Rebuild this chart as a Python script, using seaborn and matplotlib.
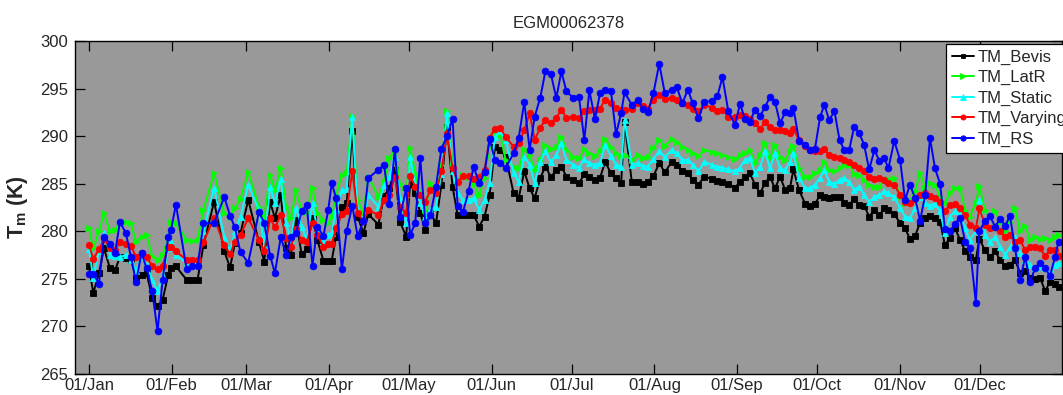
import matplotlib
matplotlib.use("Agg")
import matplotlib.pyplot as plt
import matplotlib.dates as mdates
import numpy as np
import pandas as pd
import seaborn as sns

# ---------------- data ----------------
# day of year (0 = 01/Jan) of each sounding
days = [0, 1.6, 3.75, 5.6, 7.9, 9.75, 11.6, 13.8, 15.75, 17.6, 19.7, 21.6, 23.7, 25.7, 27.6, 29.7, 30.7, 32.6,
        36.6, 38.7, 40.7, 42.9, 46.9, 50.7, 52.9, 54.7, 56.8, 59.7, 63.7, 65.7, 67.9, 69.7, 71.9, 73.9, 75.7, 77.6,
        79.7, 81.6, 83.8, 85.6, 87.9, 89.7, 91.0, 92.6, 94.8, 96.6, 98.7, 100.7, 102.9, 104.7, 108.5, 110.6, 112.6, 114.7, 116.6,
        118.9, 120.4, 122.3, 124.2, 126.1, 128.0, 130.1, 132.1, 134.2, 136.3, 138.2, 140.2, 142.3, 144.2, 146.3, 148.3,
        150.2, 152.2, 154.2, 156.2, 159.2, 161.1, 163.2, 165.2, 167.1, 169.2, 171.1, 173.2, 175.2, 177.1, 179.0,
        181.6, 183.7, 185.7, 187.6, 189.7, 191.6, 193.5, 195.7, 197.6, 199.5, 200.8, 203.5, 205.7, 207.6, 209.5, 211.6,
        213.8, 215.9, 218.5, 220.3, 222.5, 224.5, 226.3, 228.5, 230.7, 233.5, 235.6, 237.5, 239.7,
        242.2, 244.1, 245.9, 247.8, 249.7, 251.6, 253.5, 255.3, 257.2, 259.1, 261.0, 262.8, 264.1, 266.2, 268.5, 270.3,
        272.2, 274.1, 275.7, 277.5, 279.5, 281.4, 283.1, 285.0, 286.9, 288.8, 290.6, 292.5, 294.5, 296.3, 298.2, 299.7,
        301.9, 304.1, 305.95, 307.8, 309.7, 311.6, 313.5, 315.3, 317.2, 319.1, 320.9, 322.8, 324.7, 326.6, 328.5, 330.3,
        332.5, 333.8, 335.95, 337.8, 339.7, 341.6, 343.5, 345.3, 347.2, 349.1, 351.0, 352.8, 354.7, 356.6, 358.5, 360.3,
        362.2, 363.5]

tm_bevis = [276.3, 273.5, 275.6, 278.2, 276.1, 275.9, 277.3, 277.2, 277.0, 275.2, 275.4, 275.6, 273.0, 272.1, 272.8, 275.4, 276.1, 276.3,
            274.9, 274.9, 274.9, 278.55, 283.1, 277.9, 276.2, 278.75, 279.8, 283.3, 278.9, 276.8, 283.1, 281.4, 283.8, 278.2, 277.5, 281.2,
            277.6, 278.1, 281.4, 279.1, 276.9, 276.9, 276.9, 279.45, 282.6, 282.95, 290.5, 281.55, 279.8, 281.8, 280.7, 283.7, 284.5, 286.45, 281.0,
            279.45, 285.0, 284.0, 281.9, 280.15, 281.9, 280.85, 284.9, 291.0, 284.7, 281.7, 281.7, 281.7, 281.7, 280.5, 281.55,
            283.8, 288.9, 288.55, 287.85, 284.0, 283.5, 286.3, 284.5, 283.5, 285.6, 286.8, 285.7, 286.45, 286.8, 285.75,
            285.4, 285.05, 286.0, 285.75, 285.4, 285.6, 287.3, 286.1, 285.6, 285.05, 291.5, 285.2, 285.2, 285.0, 285.2, 285.8,
            287.15, 286.2, 287.3, 287.0, 286.3, 286.1, 285.4, 284.9, 285.75, 285.5, 285.3, 285.2, 285.0,
            284.6, 285.2, 285.7, 286.1, 284.9, 284.0, 285.1, 285.75, 284.5, 285.75, 284.35, 284.5, 286.5, 284.35, 282.9, 282.7,
            282.9, 283.8, 283.6, 283.5, 283.6, 283.6, 282.95, 282.8, 283.4, 282.8, 282.7, 281.55, 282.25, 281.7, 282.4, 282.25,
            281.8, 280.85, 280.3, 279.2, 279.5, 280.9, 281.4, 281.6, 281.4, 281.0, 278.55, 279.3, 280.3, 279.1, 277.9, 277.3,
            277.0, 279.2, 278.0, 277.3, 277.9, 277.0, 276.3, 276.5, 277.0, 275.6, 275.8, 275.1, 275.0, 275.1, 273.7, 274.7,
            274.5, 274.1]

tm_latr = [280.3, 278.2, 280.0, 281.9, 280.0, 280.1, 281.0, 281.0, 280.85, 278.9, 279.45, 279.6, 277.4, 277.0, 277.5, 279.3, 281.0, 280.85,
           279.1, 279.0, 279.1, 282.25, 286.1, 281.9, 281.55, 282.4, 283.4, 286.2, 282.6, 281.5, 285.9, 284.35, 286.6, 282.6, 281.4, 284.3,
           282.25, 282.0, 284.6, 281.9, 281.2, 280.85, 281.5, 283.8, 285.9, 286.1, 292.1, 283.3, 281.9, 285.75, 283.65, 285.2, 287.7, 288.55, 285.0,
           283.65, 288.8, 286.1, 284.0, 282.25, 285.05, 284.0, 287.0, 292.6, 287.15, 285.4, 285.9, 285.75, 285.0, 283.8, 285.6,
           288.9, 290.5, 290.1, 287.5, 286.8, 286.6, 288.6, 288.0, 286.45, 287.5, 289.1, 288.6, 288.9, 289.95, 288.55,
           287.85, 287.7, 288.6, 288.2, 287.9, 288.4, 289.7, 288.9, 288.2, 287.9, 288.0, 287.5, 288.0, 287.7, 287.85, 288.8,
           289.6, 289.0, 289.7, 289.4, 288.9, 288.55, 288.2, 287.9, 288.55, 288.3, 288.2, 288.0, 287.8,
           287.55, 288.0, 288.25, 288.55, 287.15, 288.0, 289.25, 287.7, 289.1, 287.85, 287.5, 288.4, 289.0, 286.6, 285.75, 285.75,
           286.1, 286.45, 287.3, 286.45, 286.3, 286.6, 287.0, 287.0, 286.0, 285.9, 285.4, 284.9, 284.7, 284.7, 285.4, 285.5,
           285.6, 283.65, 283.0, 283.2, 284.2, 286.1, 284.6, 285.05, 284.9, 283.65, 282.95, 284.0, 284.6, 284.5, 282.25, 281.55,
           283.0, 284.8, 282.2, 281.55, 282.1, 281.0, 280.0, 281.0, 282.4, 280.0, 280.6, 279.1, 279.45, 279.2, 279.3, 279.1,
           279.4, 279.6]

tm_static = [278.1, 275.1, 277.9, 279.8, 277.5, 277.4, 277.3, 277.5, 277.0, 275.8, 277.3, 276.5, 274.9, 273.7, 275.3, 278.2, 278.9, 277.5,
             276.65, 276.65, 276.65, 280.0, 284.6, 279.45, 277.9, 280.0, 281.5, 284.9, 282.25, 278.5, 284.7, 282.95, 285.5, 280.85, 279.1, 282.5,
             280.5, 279.1, 282.95, 280.15, 278.9, 279.6, 279.8, 282.25, 284.3, 284.4, 292.05, 282.25, 281.2, 283.8, 282.6, 284.9, 285.75, 287.85, 283.5,
             280.85, 287.85, 284.9, 283.0, 281.55, 282.25, 282.6, 286.0, 292.4, 286.3, 284.0, 283.3, 283.3, 283.5, 282.25, 283.3,
             285.05, 289.95, 290.5, 289.6, 286.1, 285.2, 287.85, 287.0, 285.05, 287.3, 288.4, 287.3, 288.0, 289.25, 287.5,
             287.0, 286.7, 287.55, 287.15, 287.0, 287.15, 289.1, 287.9, 287.0, 286.8, 291.7, 287.0, 287.15, 286.9, 286.8, 287.6,
             288.4, 287.8, 288.55, 288.2, 287.5, 287.5, 287.0, 286.3, 287.3, 287.0, 286.8, 286.7, 286.5,
             286.3, 286.7, 287.5, 287.7, 286.1, 286.8, 288.4, 286.6, 288.2, 286.6, 286.45, 287.3, 288.2, 285.6, 284.5, 284.5,
             284.9, 285.6, 286.45, 285.2, 284.95, 285.4, 285.6, 285.2, 284.35, 284.7, 283.8, 283.1, 283.65, 283.8, 284.2, 284.0,
             283.6, 282.4, 281.55, 281.4, 282.4, 283.65, 283.0, 282.7, 282.9, 282.1, 279.8, 281.55, 282.1, 281.7, 280.3, 279.1,
             280.0, 283.3, 279.6, 278.9, 279.4, 278.4, 277.5, 278.3, 279.45, 277.7, 277.0, 276.5, 276.1, 276.3, 276.1, 275.3,
             276.5, 276.65]

tm_varying = [278.6, 277.1, 278.1, 279.2, 278.2, 278.0, 278.9, 278.7, 278.5, 277.3, 277.7, 277.3, 276.4, 276.0, 276.4, 278.3, 278.4, 277.9,
              277.0, 277.0, 277.0, 278.9, 281.4, 278.55, 277.6, 278.9, 279.6, 281.4, 279.1, 277.9, 281.4, 280.4, 281.7, 279.3, 278.4, 280.2,
              279.1, 278.9, 280.85, 279.6, 278.4, 278.65, 278.65, 280.3, 281.8, 282.1, 286.3, 281.9, 281.1, 282.25, 281.7, 283.3, 283.8, 285.75, 282.6,
              281.9, 285.8, 284.7, 283.8, 283.1, 284.35, 284.0, 286.3, 290.3, 286.7, 285.2, 285.8, 285.8, 285.5, 285.75, 286.4,
              289.8, 290.8, 290.9, 289.9, 288.9, 289.25, 290.65, 292.4, 289.6, 290.9, 291.7, 291.4, 291.95, 292.75, 291.95,
              292.0, 291.95, 292.6, 292.7, 292.7, 292.9, 293.8, 293.45, 293.0, 292.75, 292.75, 292.9, 293.45, 293.2, 292.9, 293.8,
              294.3, 293.9, 294.0, 293.8, 293.5, 293.3, 292.9, 292.6, 293.3, 293.0, 292.6, 292.75, 292.05,
              292.0, 292.2, 292.1, 291.8, 291.35, 290.7, 291.5, 291.0, 290.65, 290.6, 290.5, 290.3, 290.8, 289.6, 289.0, 288.55,
              288.4, 288.4, 288.6, 288.0, 287.8, 287.7, 287.5, 287.3, 287.0, 286.6, 286.3, 285.75, 285.5, 285.6, 285.4, 285.1,
              284.9, 283.8, 283.1, 283.0, 283.4, 283.8, 284.0, 283.7, 283.55, 283.1, 282.1, 282.8, 282.9, 282.4, 281.7, 280.7,
              280.3, 282.4, 280.7, 280.3, 280.5, 280.0, 279.4, 279.6, 278.9, 279.1, 278.0, 278.3, 278.3, 278.2, 277.4, 278.0,
              278.0, 277.4]

tm_rs = [275.5, 275.5, 274.5, 279.4, 278.7, 277.7, 281.0, 279.8, 277.3, 274.7, 277.7, 276.1, 273.7, 269.5, 274.9, 279.4, 280.1, 282.8,
         276.0, 276.3, 276.3, 280.85, 280.85, 283.6, 281.65, 280.4, 277.8, 276.7, 282.0, 280.9, 277.45, 275.6, 279.4, 277.5, 279.45, 279.8,
         282.1, 282.8, 276.4, 280.5, 279.5, 282.25, 285.05, 283.55, 276.0, 280.0, 282.7, 279.5, 281.1, 285.6, 286.45, 287.0, 282.9, 288.6, 281.55,
         284.5, 279.6, 280.85, 287.7, 280.85, 281.7, 284.7, 288.65, 290.0, 291.8, 282.7, 282.0, 284.2, 286.8, 285.05, 286.2,
         289.7, 287.5, 287.15, 286.7, 288.2, 289.8, 293.6, 288.55, 292.05, 294.05, 296.8, 296.5, 294.0, 296.8, 294.7,
         294.0, 294.15, 289.6, 294.8, 291.8, 294.5, 294.9, 294.7, 290.2, 292.4, 294.6, 293.3, 293.8, 292.9, 292.5, 294.5,
         297.6, 294.5, 294.9, 295.2, 293.45, 294.9, 293.5, 291.9, 293.6, 293.7, 294.2, 296.2, 292.6,
         291.2, 293.4, 291.8, 291.5, 292.8, 292.1, 293.1, 294.1, 293.6, 291.35, 292.5, 292.4, 293.0, 289.5, 289.1, 288.55,
         288.7, 292.0, 293.3, 291.7, 292.6, 289.6, 288.55, 288.55, 291.0, 290.3, 289.1, 286.5, 288.55, 287.4, 287.7, 286.6,
         289.5, 287.5, 283.3, 284.9, 283.5, 281.1, 283.8, 289.8, 286.6, 285.0, 280.2, 280.0, 280.8, 281.4, 278.9, 278.2,
         272.5, 280.0, 281.1, 281.6, 280.5, 281.3, 280.6, 281.6, 278.2, 274.9, 277.3, 274.7, 276.1, 276.7, 276.1, 275.3,
         277.3, 278.9]

series_names = ["TM_Bevis", "TM_LatR", "TM_Static", "TM_Varying", "TM_RS"]
title_text = "EGM00062378"
ylabel_text = r"$\mathbf{T_m}$ (K)"
y_ticks = [265, 270, 275, 280, 285, 290, 295, 300]

# ---------------- styling ----------------
sns.set_style("white")
plt.rcParams["font.family"] = ["Liberation Sans", "DejaVu Sans"]
plt.rcParams["mathtext.fontset"] = "custom"
plt.rcParams["mathtext.rm"] = "Liberation Sans"
plt.rcParams["mathtext.bf"] = "Liberation Sans:bold"

start = pd.Timestamp("2013-01-01")
dates = start + pd.to_timedelta(days, unit="D")

fig = plt.figure(figsize=(10.63, 3.95), dpi=100)
ax = fig.add_axes([75 / 1063, 21 / 395, 987 / 1063, 333 / 395])
ax.set_facecolor("#999999")

styles = [
    (tm_bevis, "#000000", "s", 4.2),
    (tm_latr, "#00ff00", ">", 4.6),
    (tm_static, "#00ffff", "^", 4.6),
    (tm_varying, "#ff0000", "o", 4.6),
    (tm_rs, "#0000ff", "o", 4.8),
]
for (vals, col, mk, ms), name in zip(styles, series_names):
    df = pd.DataFrame({"date": dates, "tm": vals})
    sns.lineplot(data=df, x="date", y="tm", ax=ax, color=col, marker=mk,
                 markersize=ms, markeredgecolor=col, markeredgewidth=0.6,
                 linewidth=1.4, label=name, estimator=None, sort=False,
                 legend=False)

ax.set_xlim(start - pd.Timedelta(days=5.25), start + pd.Timedelta(days=364.8))
ax.set_ylim(265, 300)
ax.set_yticks(y_ticks)
ax.xaxis.set_major_locator(mdates.MonthLocator())
ax.xaxis.set_major_formatter(mdates.DateFormatter("%d/%b"))
ax.tick_params(axis="both", direction="in", length=7, width=0.9, labelsize=12,
               top=True, right=True, bottom=True, left=True, color="black")
ax.tick_params(axis="x", pad=3)
ax.tick_params(axis="y", pad=5)
ax.set_xlabel("")
ax.set_ylabel(ylabel_text, fontsize=15.5, fontweight="bold", labelpad=7)
ax.set_title(title_text, fontsize=12, pad=9)
for s in ax.spines.values():
    s.set_color("black")
    s.set_linewidth(1.0)
    s.set_visible(True)

handles, labels = ax.get_legend_handles_labels()
leg = ax.legend(handles, labels, loc="upper left", bbox_to_anchor=(0.8825, 0.991),
                borderaxespad=0, fontsize=12, frameon=True, fancybox=False,
                edgecolor="black", framealpha=1, facecolor="white",
                handlelength=1.35, handletextpad=0.2, labelspacing=0.32,
                borderpad=0.35, markerscale=0.8)
leg.get_frame().set_linewidth(0.9)

fig.savefig("out.png", dpi=100)
